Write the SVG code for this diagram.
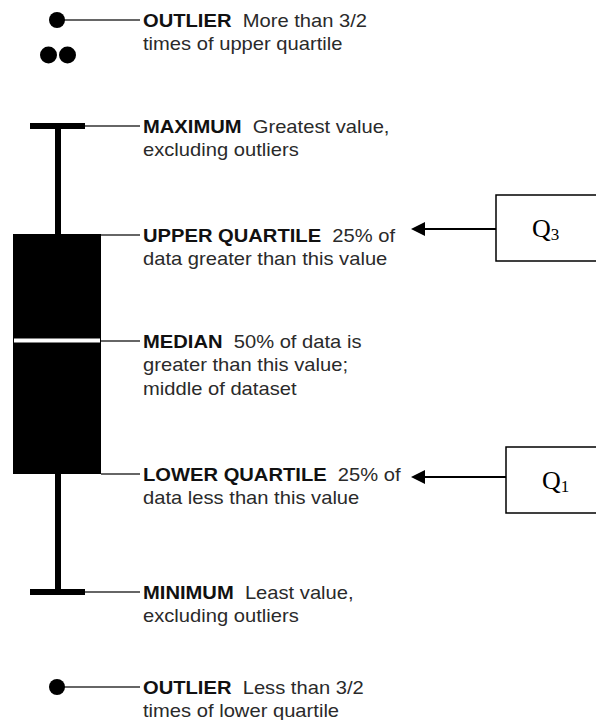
<svg xmlns="http://www.w3.org/2000/svg" width="596" height="720" viewBox="0 0 596 720">
  <style>
    .lbl { font-family: "Liberation Sans", Arial, sans-serif; font-size: 18px; fill: #2a2a2a; white-space: pre; }
    .b { font-weight: bold; fill: #111; }
    .q { font-family: "Liberation Serif", "Times New Roman", serif; font-size: 26px; fill: #000; }
    .qs { font-size: 17px; }
    .lead { stroke: #333; stroke-width: 1.5; fill: none; }
    .arrow { stroke: #000; stroke-width: 2; fill: none; marker-end: url(#ah); }
    .qbox { fill: #fff; stroke: #000; stroke-width: 1.5; }
    .ink { fill: #000; }
  </style>
  <defs>
    <marker id="ah" markerUnits="userSpaceOnUse" markerWidth="14" markerHeight="14" refX="7" refY="7" orient="auto">
      <path d="M0,0 L14,7 L0,14 z" fill="#000"/>
    </marker>
  </defs>
  <rect width="596" height="720" fill="#fff"/>

  <g id="connectors">
    <line class="lead" x1="64" y1="20" x2="140" y2="20"/>
    <line class="lead" x1="85" y1="126" x2="140" y2="126"/>
    <line class="lead" x1="101" y1="235" x2="140" y2="235"/>
    <line class="lead" x1="101" y1="341" x2="140" y2="341"/>
    <line class="lead" x1="101" y1="474" x2="140" y2="474"/>
    <line class="lead" x1="85" y1="592" x2="140" y2="592"/>
    <line class="lead" x1="64" y1="687" x2="140" y2="687"/>
    <line class="arrow" x1="496" y1="229" x2="418" y2="229"/>
    <line class="arrow" x1="506" y1="477" x2="418" y2="477"/>
  </g>

  <g id="outlier-top">
    <circle class="ink" cx="57" cy="20" r="8"/>
    <circle class="ink" cx="48.5" cy="55" r="8.5"/>
    <circle class="ink" cx="67.5" cy="55" r="8.5"/>
    <text class="lbl" transform="translate(143,26.5) scale(1.12,1)"><tspan class="b">OUTLIER</tspan>  More than 3/2<tspan x="0" dy="24">times of upper quartile</tspan></text>
  </g>

  <g id="maximum">
    <rect class="ink" x="30" y="123" width="55" height="6"/>
    <rect class="ink" x="55" y="126" width="6" height="108"/>
    <text class="lbl" transform="translate(143,132.5) scale(1.12,1)"><tspan class="b">MAXIMUM</tspan>  Greatest value,<tspan x="0" dy="24">excluding outliers</tspan></text>
  </g>

  <g id="box">
    <rect class="ink" x="13" y="234" width="88" height="240"/>
    <rect x="14" y="338.5" width="86" height="4" fill="#fff"/>
  </g>

  <g id="upper-quartile">
    <text class="lbl" transform="translate(143,241.5) scale(1.12,1)"><tspan class="b">UPPER QUARTILE</tspan>  25% of<tspan x="0" dy="24">data greater than this value</tspan></text>
  </g>

  <g id="median">
    <text class="lbl" transform="translate(143,347.5) scale(1.12,1)"><tspan class="b">MEDIAN</tspan>  50% of data is<tspan x="0" dy="24">greater than this value;</tspan><tspan x="0" dy="24">middle of dataset</tspan></text>
  </g>

  <g id="lower-quartile">
    <text class="lbl" transform="translate(143,480.5) scale(1.12,1)"><tspan class="b">LOWER QUARTILE</tspan>  25% of<tspan x="0" dy="24">data less than this value</tspan></text>
  </g>

  <g id="minimum">
    <rect class="ink" x="55" y="474" width="6" height="118"/>
    <rect class="ink" x="30" y="589" width="55" height="6"/>
    <text class="lbl" transform="translate(143,598.5) scale(1.12,1)"><tspan class="b">MINIMUM</tspan>  Least value,<tspan x="0" dy="24">excluding outliers</tspan></text>
  </g>

  <g id="outlier-bottom">
    <circle class="ink" cx="57" cy="687" r="8"/>
    <text class="lbl" transform="translate(143,693.5) scale(1.12,1)"><tspan class="b">OUTLIER</tspan>  Less than 3/2<tspan x="0" dy="24">times of lower quartile</tspan></text>
  </g>

  <g id="q3">
    <rect class="qbox" x="496" y="195" width="110" height="66"/>
    <text class="q" x="532" y="237">Q<tspan class="qs" dy="3">3</tspan></text>
  </g>

  <g id="q1">
    <rect class="qbox" x="506" y="447" width="100" height="66"/>
    <text class="q" x="542" y="489">Q<tspan class="qs" dy="3">1</tspan></text>
  </g>
</svg>
